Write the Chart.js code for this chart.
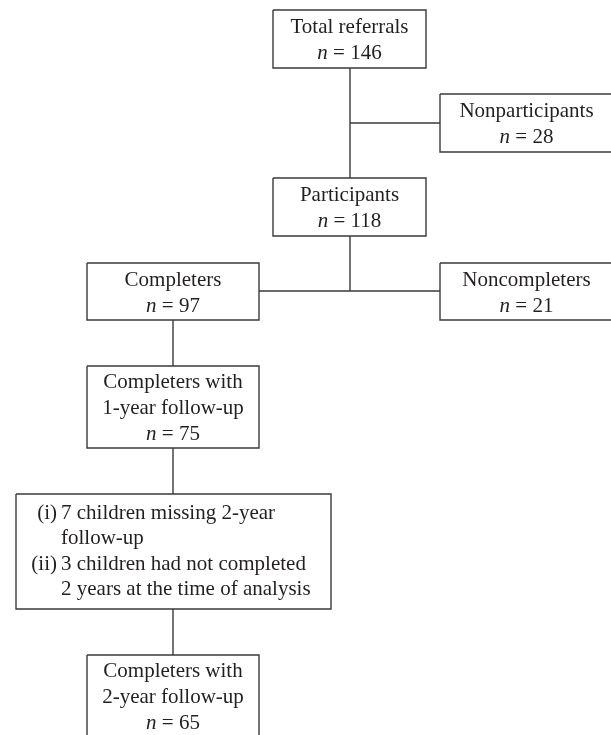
<!DOCTYPE html>
<html lang="en">
<head>
<meta charset="UTF-8">
<title>Referral flow</title>
<script src="https://cdn.jsdelivr.net/npm/chart.js"></script>
<style>
  html, body { margin: 0; padding: 0; background: #fff; }
  #wrap { width: 611px; height: 735px; }
</style>
</head>
<body>
<div id="wrap"><canvas id="flow" width="611" height="735"></canvas></div>
<script>
// node texts and counts
const nodeNames = [
  ["Total referrals"],
  ["Nonparticipants"],
  ["Participants"],
  ["Completers"],
  ["Noncompleters"],
  ["Completers with", "1-year follow-up"],
  [],
  ["Completers with", "2-year follow-up"]
];
const nodeCounts = [146, 28, 118, 97, 21, 75, null, 65];
// numbered notes in the exclusion box (node 6)
const noteMarks = ["(i)", "", "(ii)", ""];
const noteLines = ["7 children missing 2-year", "follow-up", "3 children had not completed", "2 years at the time of analysis"];

// layout, in chart units (x0, x1, y0, y1)
const boxes = [
  [273, 426, 10, 68],
  [440, 613, 94, 152],
  [273, 426, 178, 236],
  [87, 259, 263, 320],
  [440, 613, 263, 320],
  [87, 259, 366, 448],
  [16, 331, 494, 609],
  [87, 259, 655, 737]
];
const links = [
  [[350, 68], [350, 178]],
  [[350, 123], [440, 123]],
  [[350, 236], [350, 291]],
  [[259, 291], [440, 291]],
  [[173, 320], [173, 366]],
  [[173, 448], [173, 494]],
  [[173, 609], [173, 655]]
];

const ink = '#3a3a3a';
const textInk = '#231f20';
const fontFam = '"Liberation Serif", "DejaVu Serif", serif';
const fontSize = 21;
const lineH = 26;
const nudge = 1.5;

const datasets = [];
boxes.forEach(b => {
  datasets.push({
    data: [{x: b[0], y: b[2]}, {x: b[1], y: b[2]}, {x: b[1], y: b[3]}, {x: b[0], y: b[3]}, {x: b[0], y: b[2]}],
    showLine: true, borderColor: ink, borderWidth: 1.4, pointRadius: 0, fill: false, tension: 0
  });
});
links.forEach(l => {
  datasets.push({
    data: l.map(p => ({x: p[0], y: p[1]})),
    showLine: true, borderColor: ink, borderWidth: 1.4, pointRadius: 0, fill: false
  });
});

const textPlugin = {
  id: 'boxText',
  afterDatasetsDraw(chart) {
    const ctx = chart.ctx;
    const xs = chart.scales.x, ys = chart.scales.y;
    ctx.save();
    ctx.fillStyle = textInk;
    ctx.textBaseline = 'middle';
    boxes.forEach((b, i) => {
      const cx = xs.getPixelForValue((b[0] + b[1]) / 2);
      const cy = ys.getPixelForValue((b[2] + b[3]) / 2);
      if (i === 6) {
        const n = noteLines.length;
        const top = cy - (n - 1) * 25.3 / 2;
        const markX = xs.getPixelForValue(57), textX = xs.getPixelForValue(61);
        ctx.font = fontSize + 'px ' + fontFam;
        noteLines.forEach((t, k) => {
          const y = top + k * 25.3;
          ctx.textAlign = 'right';
          ctx.fillText(noteMarks[k], markX, y);
          ctx.textAlign = 'left';
          ctx.fillText(t, textX, y);
        });
        return;
      }
      const lines = nodeNames[i];
      const total = lines.length + 1;
      const top = cy - (total - 1) * lineH / 2 + nudge;
      ctx.textAlign = 'center';
      ctx.font = fontSize + 'px ' + fontFam;
      lines.forEach((t, k) => ctx.fillText(t, cx, top + k * lineH));
      // count line: italic n, regular rest
      const y = top + lines.length * lineH;
      const rest = ' = ' + nodeCounts[i];
      ctx.font = 'italic ' + fontSize + 'px ' + fontFam;
      const wn = ctx.measureText('n').width;
      ctx.font = fontSize + 'px ' + fontFam;
      const wr = ctx.measureText(rest).width;
      const x0 = cx - (wn + wr) / 2;
      ctx.textAlign = 'left';
      ctx.font = 'italic ' + fontSize + 'px ' + fontFam;
      ctx.fillText('n', x0, y);
      ctx.font = fontSize + 'px ' + fontFam;
      ctx.fillText(rest, x0 + wn, y);
    });
    ctx.restore();
  }
};

new Chart(document.getElementById('flow'), {
  type: 'scatter',
  data: { datasets: datasets },
  options: {
    responsive: false,
    animation: false,
    events: [],
    layout: { padding: 0 },
    plugins: { legend: { display: false }, tooltip: { enabled: false } },
    scales: {
      x: { type: 'linear', min: 0, max: 611, display: false },
      y: { type: 'linear', min: 0, max: 735, reverse: true, display: false }
    }
  },
  plugins: [textPlugin]
});
</script>
</body>
</html>
